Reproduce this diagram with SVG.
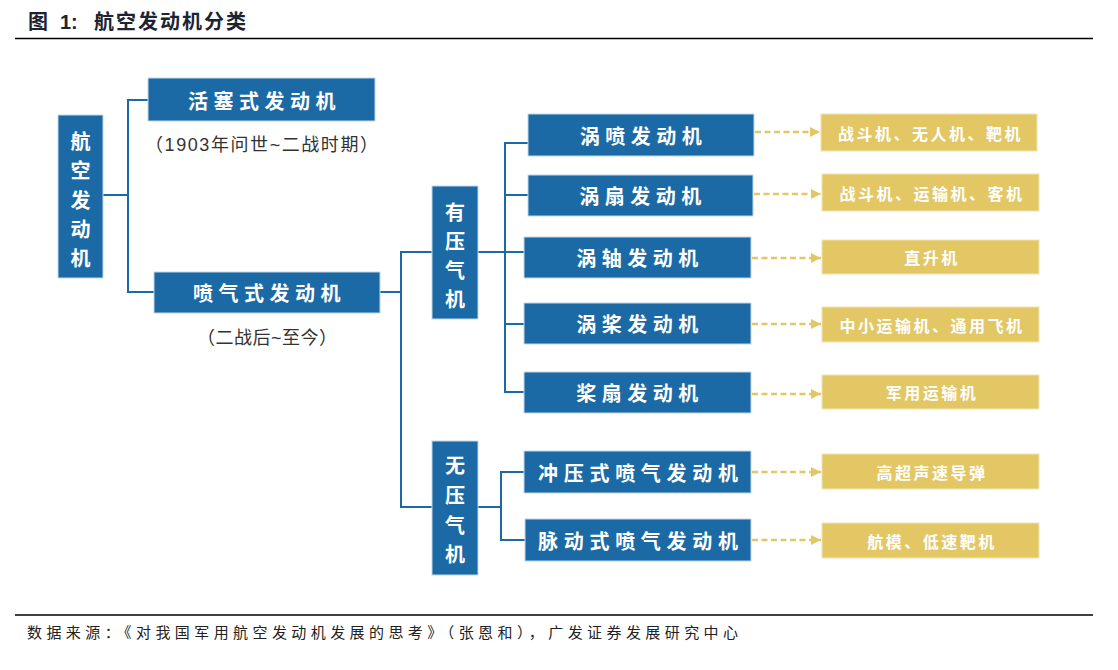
<svg xmlns="http://www.w3.org/2000/svg" width="1118" height="670" viewBox="0 0 1118 670">
<style>
  .bg { fill: #ffffff; }
  .blue { fill: #1b6aa5; stroke: #c4d7e8; stroke-width: 1; }
  .yel { fill: #e3c765; stroke: #f3e4b0; stroke-width: 1; }
  .bt { font-family: "Noto Sans CJK SC", "Noto Sans", sans-serif; font-size: 20px; font-weight: 700; fill: #ffffff; text-anchor: middle; dominant-baseline: central; }
  .bts { font-family: "Noto Sans CJK SC", "Noto Sans", sans-serif; font-size: 20px; font-weight: 700; fill: #ffffff; dominant-baseline: central; }
  .yt { font-family: "Noto Sans CJK SC", "Noto Sans", sans-serif; font-size: 16px; font-weight: 700; fill: #ffffff; text-anchor: middle; dominant-baseline: central; letter-spacing: 2.5px; }
  .note { font-family: "Liberation Sans", "Noto Sans CJK SC", sans-serif; font-size: 18px; fill: #333333; dominant-baseline: central; }
  .conn { fill: none; stroke: #1b6aa5; stroke-width: 2; }
  .arr { fill: none; stroke: #e3c765; stroke-width: 2.5; stroke-dasharray: 6 3.5; }
  .title { font-family: "Noto Sans CJK SC", "Liberation Sans", sans-serif; font-size: 20px; font-weight: 700; fill: #1c2433; }
  .foot { font-family: "Noto Sans CJK SC", sans-serif; font-size: 15px; fill: #222222; }
  .rule { stroke: #000000; stroke-width: 1.5; }
</style>
<defs>
  <marker id="ah" markerUnits="userSpaceOnUse" markerWidth="11" markerHeight="11" refX="10" refY="5" orient="auto">
    <path d="M0,0 L10,5 L0,10 Z" fill="#e3c765"/>
  </marker>
</defs>
<rect class="bg" x="0" y="0" width="1118" height="670"/>

<g id="header">
  <text class="title" x="28" y="29">图</text>
  <text class="title" x="60" y="29" style="font-family:'Liberation Sans',sans-serif">1:</text>
  <text class="title" x="94" y="29" style="letter-spacing:2px">航空发动机分类</text>
  <line class="rule" x1="15" y1="38.5" x2="1093" y2="38.5"/>
</g>

<g id="connectors">
  <path class="conn" d="M103,195 H128"/>
  <path class="conn" d="M148,100 H128 V292 H154"/>
  <path class="conn" d="M380,292 H401"/>
  <path class="conn" d="M432,252 H401 V507 H432"/>
  <path class="conn" d="M478,252 H524"/>
  <path class="conn" d="M528,143 H505 V392 H524"/>
  <path class="conn" d="M505,195 H528"/>
  <path class="conn" d="M505,324 H524"/>
  <path class="conn" d="M478,507 H501"/>
  <path class="conn" d="M524,472 H501 V540 H525"/>
  <line class="arr" x1="755" y1="132" x2="820" y2="132" marker-end="url(#ah)"/>
  <line class="arr" x1="754" y1="194" x2="821" y2="194" marker-end="url(#ah)"/>
  <line class="arr" x1="752" y1="258" x2="821" y2="258" marker-end="url(#ah)"/>
  <line class="arr" x1="752" y1="324" x2="821" y2="324" marker-end="url(#ah)"/>
  <line class="arr" x1="752" y1="394" x2="821" y2="394" marker-end="url(#ah)"/>
  <line class="arr" x1="752" y1="472" x2="821" y2="472" marker-end="url(#ah)"/>
  <line class="arr" x1="752" y1="540" x2="821" y2="540" marker-end="url(#ah)"/>
</g>

<g id="node-root">
  <rect class="blue" x="58" y="115" width="45" height="163"/>
  <text class="bt"><tspan x="80.5" y="140">航</tspan><tspan x="80.5" y="169">空</tspan><tspan x="80.5" y="199">发</tspan><tspan x="80.5" y="228">动</tspan><tspan x="80.5" y="257">机</tspan></text>
</g>

<g id="node-piston">
  <rect class="blue" x="148" y="78" width="227" height="43"/>
  <text class="bt" x="264.5" y="100" style="letter-spacing:5.5px">活塞式发动机</text>
  <text class="note" x="145" y="145" textLength="233" lengthAdjust="spacing">（1903年问世~二战时期）</text>
</g>

<g id="node-jet">
  <rect class="blue" x="154" y="272" width="226" height="41"/>
  <text class="bt" x="269.5" y="292.5" style="letter-spacing:5.5px">喷气式发动机</text>
  <text class="note" x="197" y="338" textLength="140" lengthAdjust="spacing">（二战后~至今）</text>
</g>

<g id="node-compressor">
  <rect class="blue" x="432" y="186" width="46" height="133"/>
  <text class="bt"><tspan x="455" y="211">有</tspan><tspan x="455" y="240">压</tspan><tspan x="455" y="269">气</tspan><tspan x="455" y="298">机</tspan></text>
</g>

<g id="node-nocompressor">
  <rect class="blue" x="432" y="441" width="46" height="134"/>
  <text class="bt"><tspan x="455" y="464">无</tspan><tspan x="455" y="494">压</tspan><tspan x="455" y="524">气</tspan><tspan x="455" y="553">机</tspan></text>
</g>

<g id="node-turbojet">
  <rect class="blue" x="528" y="114" width="226" height="42"/>
  <text class="bt" x="643.5" y="135" style="letter-spacing:5.5px">涡喷发动机</text>
</g>
<g id="node-turbofan">
  <rect class="blue" x="528" y="175" width="225" height="41"/>
  <text class="bt" x="643" y="195.5" style="letter-spacing:5.5px">涡扇发动机</text>
</g>
<g id="node-turboshaft">
  <rect class="blue" x="524" y="237" width="227" height="41"/>
  <text class="bt" x="640" y="257.5" style="letter-spacing:5.5px">涡轴发动机</text>
</g>
<g id="node-turboprop">
  <rect class="blue" x="524" y="303" width="227" height="41"/>
  <text class="bt" x="640" y="323.5" style="letter-spacing:5.5px">涡桨发动机</text>
</g>
<g id="node-propfan">
  <rect class="blue" x="524" y="372" width="227" height="41"/>
  <text class="bt" x="640" y="392.5" style="letter-spacing:5.5px">桨扇发动机</text>
</g>
<g id="node-ramjet">
  <rect class="blue" x="524" y="451" width="227" height="42"/>
  <text class="bts" x="538" y="472" textLength="200" lengthAdjust="spacing">冲压式喷气发动机</text>
</g>
<g id="node-pulsejet">
  <rect class="blue" x="525" y="519" width="226" height="42"/>
  <text class="bts" x="538" y="540" textLength="200" lengthAdjust="spacing">脉动式喷气发动机</text>
</g>

<g id="use-1">
  <rect class="yel" x="821" y="114" width="216" height="37"/>
  <text class="yt" x="930.5" y="132.5">战斗机、无人机、靶机</text>
</g>
<g id="use-2">
  <rect class="yel" x="822" y="174" width="217" height="37"/>
  <text class="yt" x="932" y="192.5">战斗机、运输机、客机</text>
</g>
<g id="use-3">
  <rect class="yel" x="822" y="240" width="217" height="34"/>
  <text class="yt" x="932" y="257">直升机</text>
</g>
<g id="use-4">
  <rect class="yel" x="822" y="307" width="217" height="35"/>
  <text class="yt" x="932" y="324.5">中小运输机、通用飞机</text>
</g>
<g id="use-5">
  <rect class="yel" x="822" y="375" width="217" height="34"/>
  <text class="yt" x="932" y="392">军用运输机</text>
</g>
<g id="use-6">
  <rect class="yel" x="822" y="454" width="217" height="35"/>
  <text class="yt" x="932" y="471.5">高超声速导弹</text>
</g>
<g id="use-7">
  <rect class="yel" x="822" y="523" width="217" height="35"/>
  <text class="yt" x="932" y="540.5">航模、低速靶机</text>
</g>

<g id="footer">
  <line class="rule" x1="15" y1="615" x2="1093" y2="615"/>
  <text class="foot" x="27" y="638" textLength="711" lengthAdjust="spacing">数据来源：《对我国军用航空发动机发展的思考》（张恩和），广发证券发展研究中心</text>
</g>
</svg>
